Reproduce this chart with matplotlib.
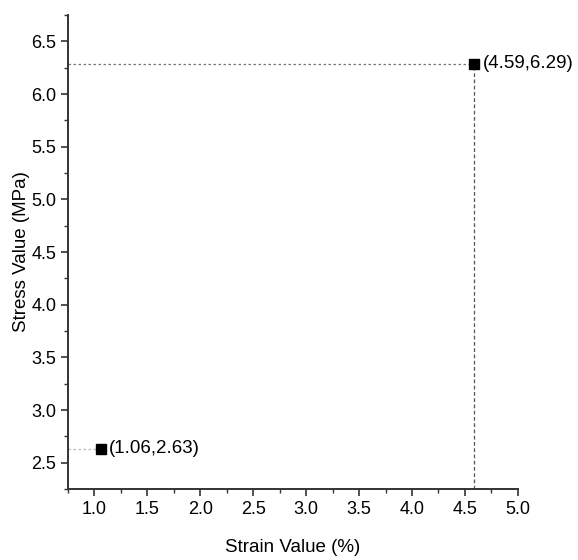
import matplotlib
matplotlib.use("Agg")
import matplotlib.pyplot as plt
from matplotlib.ticker import MultipleLocator

plt.rcParams['font.family'] = ['Liberation Sans', 'DejaVu Sans']

strain = [1.06, 4.59]
stress = [2.63, 6.29]
labels = ["(1.06,2.63)", "(4.59,6.29)"]

fig = plt.figure(figsize=(5.78, 5.6), dpi=100)
ax = fig.add_axes([0.1176, 0.1268, 0.896 - 0.1176, 0.973 - 0.1268])
ax.set_xlim(0.75, 5.0)
ax.set_ylim(2.25, 6.75)

# guide lines
ax.plot([0.75, strain[0]], [stress[0], stress[0]], linestyle=(0, (2, 2)), color='#bbbbbb', lw=0.9, zorder=1)
ax.plot([0.75, strain[1]], [stress[1], stress[1]], linestyle=(0, (2, 2)), color='#777777', lw=0.9, zorder=1)
ax.plot([strain[1], strain[1]], [2.25, stress[1]], linestyle=(0, (3, 2)), color='#555555', lw=0.9, zorder=1)

ax.plot(strain, stress, linestyle='none', marker='s', markersize=6.5, color='black', zorder=3)
for x, y, t in zip(strain, stress, labels):
    ax.annotate(t, (x, y), xytext=(6, 0), textcoords='offset points', va='center', ha='left', fontsize=13.5)

for s in ['top', 'right']:
    ax.spines[s].set_visible(False)
for s in ['left', 'bottom']:
    ax.spines[s].set_linewidth(1.4)
    ax.spines[s].set_color('#333333')

ax.xaxis.set_major_locator(MultipleLocator(0.5))
ax.xaxis.set_minor_locator(MultipleLocator(0.25))
ax.yaxis.set_major_locator(MultipleLocator(0.5))
ax.yaxis.set_minor_locator(MultipleLocator(0.25))
ax.tick_params(which='major', direction='out', length=5, width=1.2, color='#333333', labelsize=13)
ax.tick_params(which='minor', direction='out', length=3, width=1.0, color='#333333')
ax.set_xticks([1.0, 1.5, 2.0, 2.5, 3.0, 3.5, 4.0, 4.5, 5.0])
ax.set_xticklabels(["1.0", "1.5", "2.0", "2.5", "3.0", "3.5", "4.0", "4.5", "5.0"])
ax.set_yticks([2.5, 3.0, 3.5, 4.0, 4.5, 5.0, 5.5, 6.0, 6.5])
ax.set_yticklabels(["2.5", "3.0", "3.5", "4.0", "4.5", "5.0", "5.5", "6.0", "6.5"])

ax.set_xlabel("Strain Value (%)", fontsize=13.5, labelpad=15)
ax.set_ylabel("Stress Value (MPa)", fontsize=13.5, labelpad=1)

fig.savefig("out.png", dpi=100)
